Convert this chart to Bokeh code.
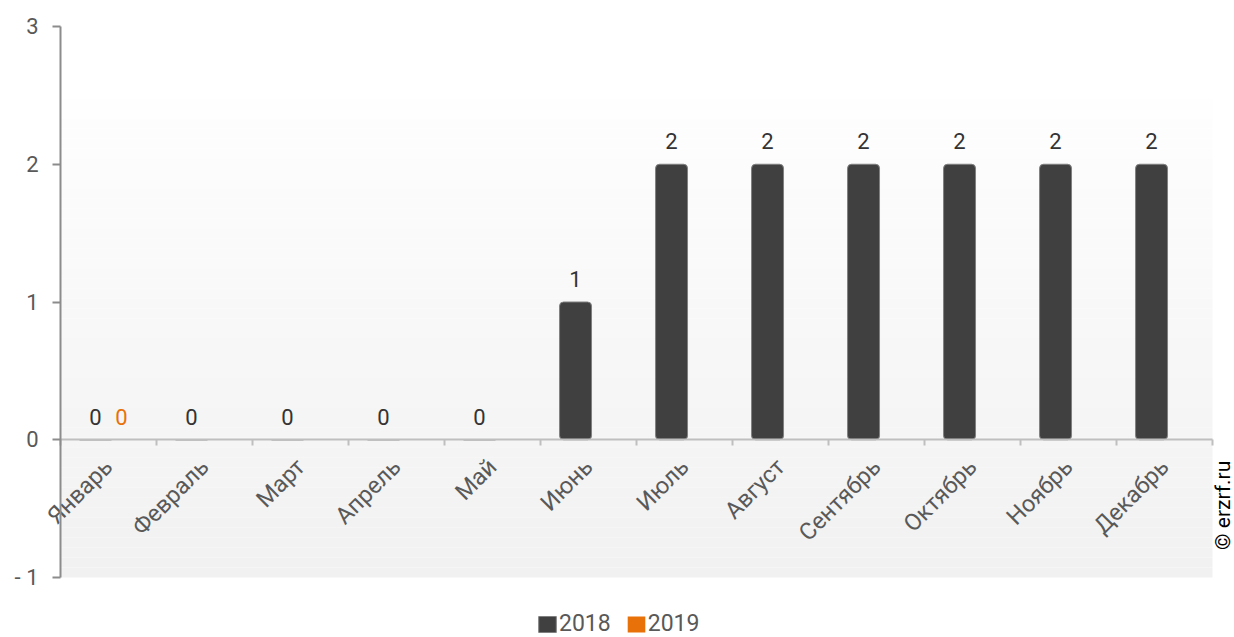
import math
from bokeh.plotting import figure
from bokeh.models import (Range1d, FixedTicker, LinearAxis, ColumnDataSource,
                          Legend, LegendItem, Label)
from bokeh.core.properties import value
from bokeh.embed import file_html
from bokeh.resources import INLINE

months = ["Январь", "Февраль", "Март", "Апрель", "Май", "Июнь",
          "Июль", "Август", "Сентябрь", "Октябрь", "Ноябрь", "Декабрь"]
values_2018 = [0, 0, 0, 0, 0, 1, 2, 2, 2, 2, 2, 2]
values_2019 = [0, None, None, None, None, None, None, None, None, None, None, None]
series_names = ["2018", "2019"]
series_colors = ["#404040", "#E8710A"]
label_colors = ["#333333", "#E8710A"]
y_ticks = [-1, 0, 1, 2, 3]
y_tick_labels = ["- 1", "0", "1", "2", "3"]
copyright_text = "© erzrf.ru"

FONT = "Roboto"
GREY_TXT = "#595959"

W, H = 1234, 637
LEFT, TOP = 60, 26
PX_X = 96.0          # pixels per category
PX_Y = 137.75        # pixels per y unit

n = len(months)
centers = [i + 0.5 for i in range(n)]
dodge = 0.135
bar_w = 0.333

x_start = -LEFT / PX_X
x_end = (W - LEFT) / PX_X
y_end = y_ticks[-1] + TOP / PX_Y
y_start = y_ticks[0] - (H - (TOP + PX_Y * (y_ticks[-1] - y_ticks[0]))) / PX_Y

p = figure(width=W, height=H,
           x_range=Range1d(x_start, x_end), y_range=Range1d(y_start, y_end),
           output_backend="svg", toolbar_location=None,
           x_axis_location=None, y_axis_location=None,
           min_border_left=0, min_border_right=0,
           min_border_top=0, min_border_bottom=0)
p.outline_line_color = None
p.xgrid.visible = False
p.ygrid.visible = False
p.background_fill_color = "white"
p.border_fill_color = "white"

# gradient backdrop (decoration)
g_top, g_bot = 2.476, y_ticks[0]
steps = 48
tops, bots, cols = [], [], []
for k in range(steps):
    t0 = g_top - (g_top - g_bot) * k / steps
    t1 = g_top - (g_top - g_bot) * (k + 1) / steps
    f = (k + 0.5) / steps
    c = int(round(254 - (254 - 241) * f))
    tops.append(t0)
    bots.append(t1)
    cols.append("#%02x%02x%02x" % (c, c, c))
p.quad(left=0, right=n, top=tops, bottom=bots, fill_color=cols, line_color=None)

# bars
src18 = ColumnDataSource(dict(x=[c - dodge for c in centers], top=values_2018))
src19 = ColumnDataSource(dict(x=[c + dodge for c in centers],
                              top=[v if v is not None else float("nan") for v in values_2019]))
r18 = p.vbar(x="x", top="top", bottom=0, width=bar_w, source=src18,
             fill_color=series_colors[0], line_color="#808080", line_width=1,
             border_radius=4)
r19 = p.vbar(x="x", top="top", bottom=0, width=bar_w, source=src19,
             fill_color=series_colors[1], line_color=None, border_radius=4)

# value labels
lab18 = ColumnDataSource(dict(x=[c - dodge for c in centers], y=values_2018,
                              t=[str(v) for v in values_2018]))
xs19 = [c + dodge for c, v in zip(centers, values_2019) if v is not None]
ys19 = [v for v in values_2019 if v is not None]
lab19 = ColumnDataSource(dict(x=xs19, y=ys19, t=[str(v) for v in ys19]))
for src, col in ((lab18, label_colors[0]), (lab19, label_colors[1])):
    p.text(x="x", y="y", text="t", source=src, text_align="center",
           text_baseline="middle", y_offset=-23, text_color=col,
           text_font=value(FONT), text_font_size="22px")

# y axis at x=0
yax = LinearAxis(ticker=FixedTicker(ticks=y_ticks), bounds=(y_ticks[0], y_ticks[-1]),
                 fixed_location=0,
                 major_label_overrides={t: l for t, l in zip(y_ticks, y_tick_labels)})
yax.axis_line_color = "#8c8c8c"
yax.axis_line_width = 2
yax.major_tick_line_color = "#8c8c8c"
yax.major_tick_line_width = 2
yax.major_tick_out = 8
yax.major_tick_in = 0
yax.minor_tick_line_color = None
yax.major_label_standoff = 14
yax.major_label_text_font = FONT
yax.major_label_text_font_size = "22px"
yax.major_label_text_color = GREY_TXT
p.add_layout(yax, "left")

# x axis (boundary ticks) at y=0
xb = LinearAxis(ticker=FixedTicker(ticks=list(range(n + 1))), fixed_location=0,
                bounds=(0, n),
                major_label_overrides={i: "" for i in range(n + 1)})
xb.axis_line_color = "#bfbfbf"
xb.axis_line_width = 2
xb.major_tick_line_color = "#bfbfbf"
xb.major_tick_line_width = 2
xb.major_tick_out = 6
xb.major_tick_in = 0
xb.minor_tick_line_color = None
xb.major_label_text_font_size = "1px"
p.add_layout(xb, "below")

# x axis labels at category centres
xl = LinearAxis(ticker=FixedTicker(ticks=centers), fixed_location=0,
                major_label_overrides={c: m for c, m in zip(centers, months)})
xl.axis_line_color = None
xl.major_tick_line_color = None
xl.minor_tick_line_color = None
xl.major_label_orientation = math.pi / 4
xl.major_label_standoff = 17
xl.major_label_text_font = FONT
xl.major_label_text_font_size = "23.5px"
xl.major_label_text_color = GREY_TXT
p.add_layout(xl, "below")

# legend
legend = Legend(items=[LegendItem(label=series_names[0], renderers=[r18]),
                       LegendItem(label=series_names[1], renderers=[r19])],
                location=(476 + LEFT, 0), orientation="horizontal",
                border_line_color=None, background_fill_alpha=0,
                padding=0, margin=0, spacing=14, label_standoff=1,
                glyph_width=22, glyph_height=20,
                label_text_font=FONT, label_text_font_size="23px",
                label_text_color=GREY_TXT)
p.add_layout(legend, "center")

# copyright
p.add_layout(Label(x=n + 10 / PX_X, y=-0.80, text=copyright_text, angle=math.pi / 2,
                   text_align="left", text_baseline="middle",
                   text_font=FONT, text_font_size="21px", text_color="#000000"))

open("out.html", "w").write(file_html(p, INLINE))
